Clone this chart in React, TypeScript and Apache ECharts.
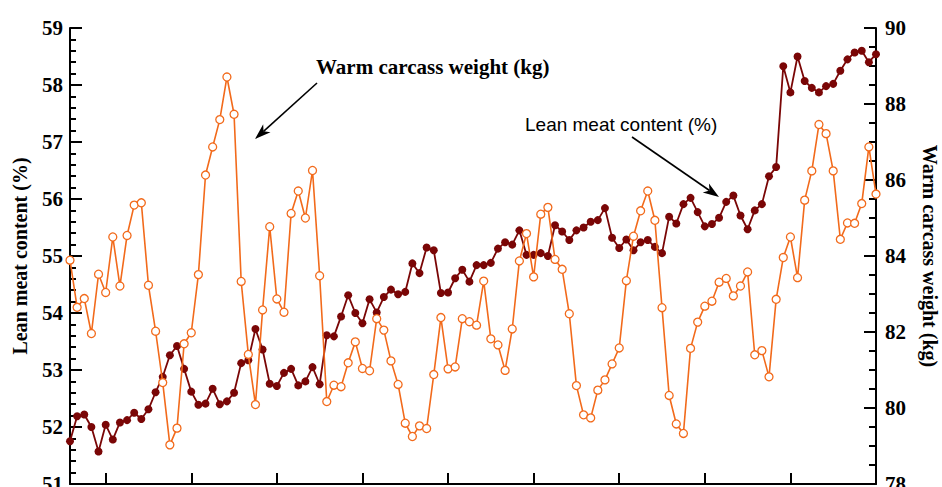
import React, { useEffect, useRef } from "react";
import * as echarts from "echarts";

// Lean meat content (%) — left axis, dark red filled dots
const leanMeat: number[] = [
  51.75, 52.19, 52.22, 52.0, 51.57, 52.04, 51.78, 52.08, 52.12, 52.25,
  52.14, 52.31, 52.61, 52.88, 53.26, 53.42, 53.02, 52.62, 52.39, 52.41,
  52.67, 52.4, 52.45, 52.6, 53.12, 53.17, 53.72, 53.36, 52.76, 52.72,
  52.95, 53.02, 52.73, 52.8, 53.05, 52.75, 53.61, 53.59, 53.94, 54.31,
  54.0, 53.82, 54.24, 54.01, 54.28, 54.41, 54.33, 54.37, 54.87, 54.7,
  55.15, 55.1, 54.35, 54.36, 54.61, 54.76, 54.55, 54.84, 54.84, 54.88,
  55.13, 55.24, 55.2, 55.45, 55.02, 55.02, 55.05, 55.0, 55.54, 55.43,
  55.28, 55.45, 55.5, 55.6, 55.63, 55.84, 55.32, 55.14, 55.29, 55.1,
  55.24, 55.28, 55.16, 55.05, 55.69, 55.57, 55.91, 56.02, 55.77, 55.52,
  55.56, 55.67, 55.95, 56.06, 55.71, 55.47, 55.8, 55.91, 56.4, 56.56,
  58.33, 57.87, 58.5, 58.07, 57.95, 57.87, 57.98, 58.02, 58.25, 58.45,
  58.57, 58.6, 58.4, 58.54,
];

// Warm carcass weight (kg) — right axis, orange hollow dots
const carcassWeight: number[] = [
  83.89, 82.65, 82.88, 81.96, 83.52, 83.04, 84.5, 83.21, 84.54, 85.34,
  85.4, 83.23, 82.02, 80.67, 79.03, 79.47, 81.69, 81.98, 83.51, 86.13,
  86.87, 87.59, 88.71, 87.73, 83.33, 81.41, 80.09, 82.58, 84.77, 82.87,
  82.52, 85.12, 85.71, 85.0, 86.25, 83.48, 80.17, 80.6, 80.56, 81.19,
  81.74, 81.04, 80.98, 82.35, 82.05, 81.24, 80.62, 79.6, 79.25, 79.53,
  79.46, 80.88, 82.38, 81.03, 81.08, 82.35, 82.27, 82.18, 83.34, 81.82,
  81.66, 80.99, 82.08, 83.87, 84.59, 83.45, 85.1, 85.28, 83.91, 83.65,
  82.48, 80.59, 79.82, 79.74, 80.47, 80.74, 81.16, 81.58, 83.35, 84.52,
  85.19, 85.71, 84.94, 82.64, 80.33, 79.58, 79.33, 81.57, 82.26, 82.68,
  82.81, 83.31, 83.41, 82.95, 83.21, 83.58, 81.4, 81.51, 80.82, 82.86,
  83.96, 84.5, 83.43, 85.47, 86.24, 87.46, 87.22, 86.24, 84.44, 84.87,
  84.86, 85.38, 86.87, 85.63,
];

const categories: string[] = leanMeat.map((_, i) => String(i + 1));

const leftTicks = { min: 51, max: 59, interval: 1 };
const rightTicks = { min: 78, max: 90, interval: 2 };

const leftTitle = "Lean meat content (%)";
const rightTitle = "Warm carcass weight (kg)";
const noteWeight = "Warm carcass weight (kg)";
const noteLean = "Lean meat content (%)";

function arrow(x1: number, y1: number, x2: number, y2: number) {
  const dx = x2 - x1;
  const dy = y2 - y1;
  const len = Math.sqrt(dx * dx + dy * dy);
  const ux = dx / len;
  const uy = dy / len;
  const L = 16;
  const W = 5.5;
  const bx = x2 - ux * L;
  const by = y2 - uy * L;
  const nx = x2 - ux * 11.5;
  const ny = y2 - uy * 11.5;
  const px = -uy * W;
  const py = ux * W;
  return [
    {
      type: "line",
      shape: { x1, y1, x2: nx, y2: ny },
      style: { stroke: "#000", lineWidth: 1.6 },
      silent: true,
    },
    {
      type: "polygon",
      shape: {
        points: [
          [x2, y2],
          [bx + px, by + py],
          [nx, ny],
          [bx - px, by - py],
        ],
      },
      style: { fill: "#000" },
      silent: true,
    },
  ];
}

export default function App() {
  const ref = useRef<HTMLDivElement>(null);

  useEffect(() => {
    document.body.style.margin = "0";
    if (!ref.current) return;
    const chart = echarts.init(ref.current, undefined, { renderer: "svg" });
    const serif = "'Liberation Serif', 'Times New Roman', serif";
    const axisCommon = {
      axisLine: { show: true, lineStyle: { color: "#000", width: 2 } },
      splitLine: { show: false },
    };
    chart.setOption({
      animation: false,
      backgroundColor: "#fff",
      grid: { left: 70, right: 66, top: 28, bottom: 3, containLabel: false, outerBoundsMode: "none" },
      xAxis: {
        type: "category",
        data: categories,
        boundaryGap: false,
        ...axisCommon,
        axisTick: {
          show: true,
          inside: true,
          length: 11,
          interval: (i: number) => i % 12 === 5,
          lineStyle: { color: "#000", width: 2 },
        },
        axisLabel: { show: false },
      },
      yAxis: [
        {
          type: "value",
          position: "left",
          min: leftTicks.min,
          max: leftTicks.max,
          interval: leftTicks.interval,
          ...axisCommon,
          axisTick: {
            show: true,
            inside: true,
            length: 12,
            lineStyle: { color: "#000", width: 2 },
          },
          minorTick: {
            show: true,
            splitNumber: 5,
            length: 6,
            lineStyle: { color: "#000", width: 2 },
          },
          axisLabel: {
            color: "#000",
            fontFamily: serif,
            fontSize: 21,
            fontWeight: "bold",
            margin: 7,
          },
          name: leftTitle,
          nameLocation: "middle",
          nameRotate: 90,
          nameGap: 40,
          nameTextStyle: {
            color: "#000",
            fontFamily: serif,
            fontSize: 20,
            fontWeight: "bold",
          },
        },
        {
          type: "value",
          position: "right",
          min: rightTicks.min,
          max: rightTicks.max,
          interval: rightTicks.interval,
          ...axisCommon,
          axisTick: {
            show: true,
            inside: true,
            length: 12,
            lineStyle: { color: "#000", width: 2 },
          },
          minorTick: {
            show: true,
            splitNumber: 4,
            length: 7,
            lineStyle: { color: "#000", width: 2 },
          },
          axisLabel: {
            color: "#000",
            fontFamily: serif,
            fontSize: 21,
            fontWeight: "bold",
            margin: 9,
          },
          name: rightTitle,
          nameLocation: "middle",
          nameRotate: -90,
          nameGap: 44,
          nameTextStyle: {
            color: "#000",
            fontFamily: serif,
            fontSize: 20,
            fontWeight: "bold",
          },
        },
      ],
      series: [
        {
          name: leftTitle,
          type: "line",
          yAxisIndex: 0,
          data: leanMeat,
          symbol: "circle",
          symbolSize: 8,
          showAllSymbol: true,
          lineStyle: { color: "#7a0606", width: 1.8 },
          itemStyle: { color: "#7a0606", borderColor: "#7a0606", borderWidth: 0 },
          z: 2,
        },
        {
          name: rightTitle,
          type: "line",
          yAxisIndex: 1,
          data: carcassWeight,
          symbol: "circle",
          symbolSize: 8,
          showAllSymbol: true,
          lineStyle: { color: "#f26a1b", width: 1.6 },
          itemStyle: { color: "#ffffff", borderColor: "#f26a1b", borderWidth: 1.3 },
          z: 3,
        },
      ],
      graphic: [
        {
          type: "text",
          left: 316,
          top: 56,
          style: {
            text: noteWeight,
            fill: "#000",
            font: `bold 21px ${serif}`,
          },
          silent: true,
        },
        {
          type: "text",
          left: 525,
          top: 115,
          style: {
            text: noteLean,
            fill: "#000",
            font: `19px 'Liberation Sans', Arial, sans-serif`,
          },
          silent: true,
        },
        ...arrow(317, 83, 255, 139),
        ...arrow(632, 137, 719, 197),
      ],
    });
    return () => chart.dispose();
  }, []);

  return (
    <div
      ref={ref}
      style={{ position: "fixed", left: 0, top: 0, width: 942, height: 487 }}
    />
  );
}
